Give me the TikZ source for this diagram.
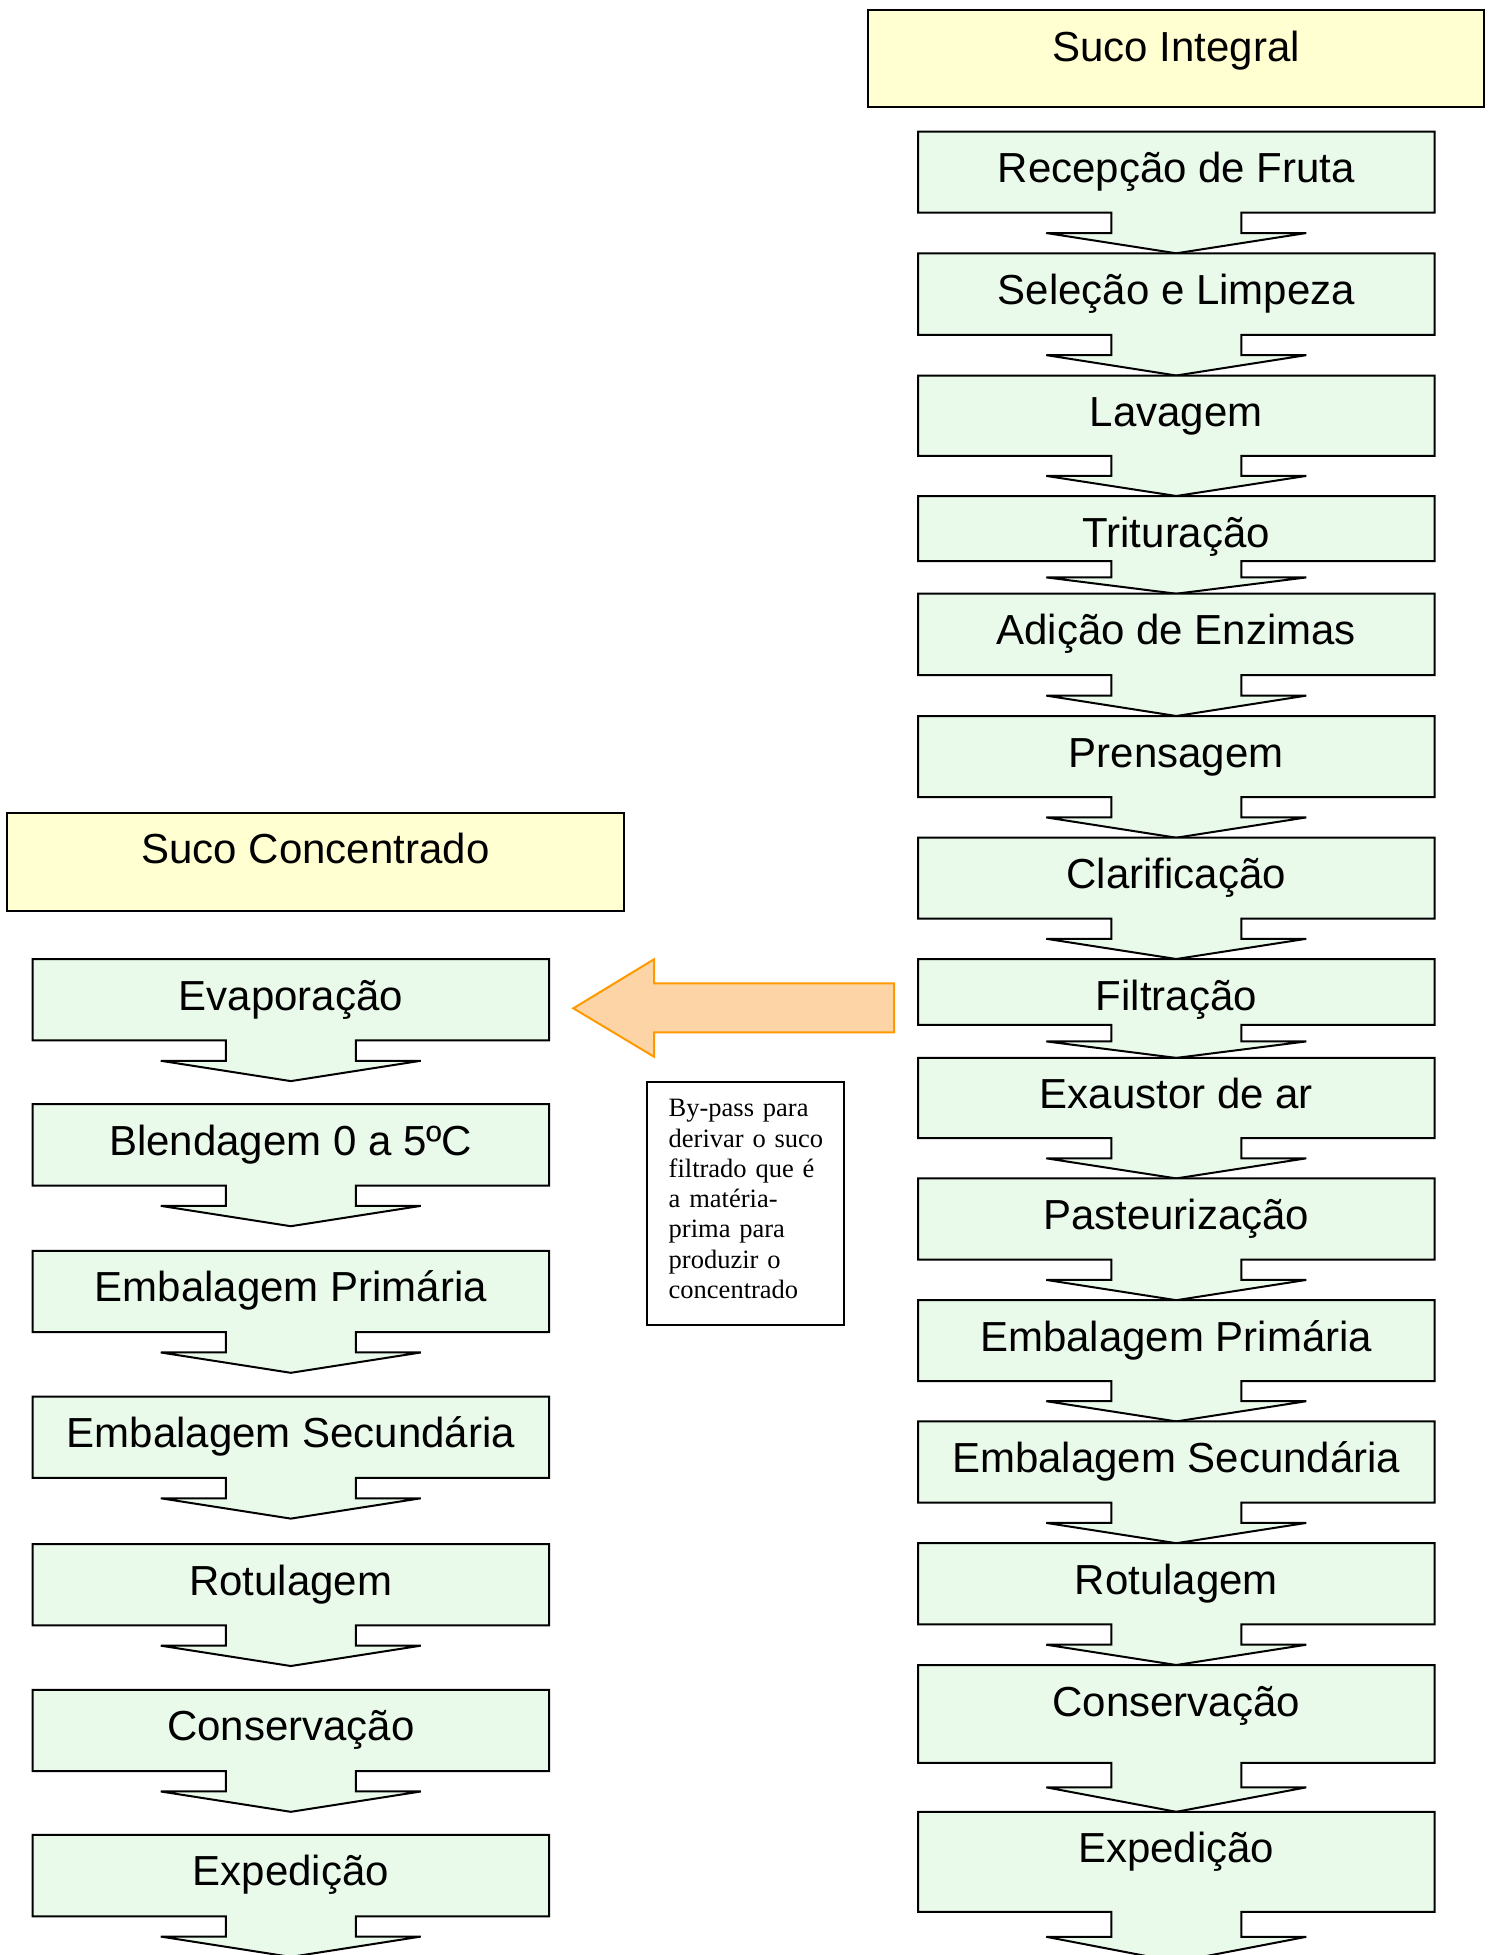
\documentclass[tikz,border=0pt]{standalone}
\usepackage{fontspec}
\setmainfont{Liberation Sans}
\newfontfamily\notefont{Liberation Serif}

\definecolor{stepgreen}{RGB}{234,250,234}
\definecolor{titleyellow}{RGB}{255,255,210}
\definecolor{bypassfill}{RGB}{253,212,165}
\definecolor{bypassline}{RGB}{255,153,0}

\tikzset{
  stepshape/.style={draw=black, fill=stepgreen, line width=1pt, line join=miter},
  steplabel/.style={anchor=base, inner sep=0pt, font=\fontsize{21}{25}\selectfont},
  titlebox/.style={draw=black, fill=titleyellow, line width=1pt},
  bypassarrow/.style={draw=bypassline, fill=bypassfill, line width=1pt, line join=miter},
  notebox/.style={draw=black, fill=white, line width=1pt},
  notetext/.style={anchor=base west, inner sep=0pt, text width=88pt, align=left,
    font=\notefont\fontsize{13.25}{15.15}\selectfont},
}

% One process step: a box with a downward block arrow under it.
% #1 name, #2 centre x, #3 top y, #4 total height (box + arrow), #5 label
\newcommand\flowstep[5]{%
  \pgfmathsetmacro\fsB{#3+2*#4/3}%
  \pgfmathsetmacro\fsS{#3+5*#4/6}%
  \pgfmathsetmacro\fsT{#3+#4}%
  \draw[stepshape] (#2-258.3,#3) -- (#2+258.3,#3) -- (#2+258.3,\fsB)
    -- (#2+65,\fsB) -- (#2+65,\fsS) -- (#2+130,\fsS) -- (#2,\fsT)
    -- (#2-130,\fsS) -- (#2-65,\fsS) -- (#2-65,\fsB) -- (#2-258.3,\fsB) -- cycle;
  \node[steplabel] (#1) at (#2,#3+51) {#5};%
}

\begin{document}
\begin{tikzpicture}[x=0.5pt,y=-0.5pt]
  \useasboundingbox (0,0) rectangle (1489,1955);
  \fill[white] (0,0) rectangle (1489,1955);
  \clip (0,0) rectangle (1489,1955);

  % ---- whole juice line ----
  \draw[titlebox] (868,10) rectangle (1483.7,106.8);
  \node[steplabel] (integral) at (1176,61) {Suco Integral};

  \flowstep{r1}{1176.3}{131.6}{121.7}{Recepção de Fruta}
  \flowstep{r2}{1176.3}{253.3}{122.2}{Seleção e Limpeza}
  \flowstep{r3}{1176.3}{375.5}{120.5}{Lavagem}
  \flowstep{r4}{1176.3}{496}{97.7}{Trituração}
  \flowstep{r5}{1176.3}{593.7}{122.3}{Adição de Enzimas}
  \flowstep{r6}{1176.3}{716}{121.7}{Prensagem}
  \flowstep{r7}{1176.3}{837.7}{121.3}{Clarificação}
  \flowstep{r8}{1176.3}{959}{98.9}{Filtração}
  \flowstep{r9}{1176.3}{1057.9}{120.5}{Exaustor de ar}
  \flowstep{r10}{1176.3}{1178.4}{121.8}{Pasteurização}
  \flowstep{r11}{1176.3}{1300.2}{121.2}{Embalagem Primária}
  \flowstep{r12}{1176.3}{1421.4}{121.8}{Embalagem Secundária}
  \flowstep{r13}{1176.3}{1543.2}{121.8}{Rotulagem}
  \flowstep{r14}{1176.3}{1665}{146.8}{Conservação}
  \flowstep{r15}{1176.3}{1811.8}{150}{Expedição}

  % ---- concentrate line ----
  \draw[titlebox] (7.3,813.3) rectangle (623.7,910.5);
  \node[steplabel] (concentrado) at (315.5,863.3) {Suco Concentrado};

  \flowstep{l1}{290.8}{959.1}{122}{Evaporação}
  \flowstep{l2}{290.8}{1104.2}{122}{Blendagem 0 a 5ºC}
  \flowstep{l3}{290.8}{1250.8}{122}{Embalagem Primária}
  \flowstep{l4}{290.8}{1396.6}{122}{Embalagem Secundária}
  \flowstep{l5}{290.8}{1544}{122}{Rotulagem}
  \flowstep{l6}{290.8}{1689.8}{122}{Conservação}
  \flowstep{l7}{290.8}{1834.9}{122}{Expedição}

  % ---- by-pass from filtration to evaporation ----
  \draw[bypassarrow] (894,983.3) -- (654,983.3) -- (654,959.3) -- (573.3,1008.3)
    -- (654,1056.7) -- (654,1032.3) -- (894,1032.3) -- cycle;

  \draw[notebox] (647.3,1081.7) rectangle (844.3,1325);
  \node[notetext] (bypass) at (668.3,1116.7)
    {By-pass para\\derivar o suco\\filtrado que é\\a matéria-\\prima para\\produzir o\\concentrado};
\end{tikzpicture}
\end{document}
